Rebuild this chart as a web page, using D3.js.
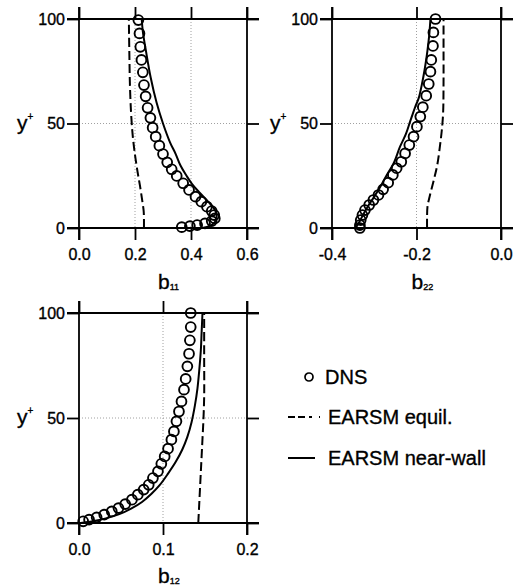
<!DOCTYPE html>
<html>
<head>
<meta charset="utf-8">
<script src="https://cdn.jsdelivr.net/npm/d3@7"></script>
<style>
  body { margin: 0; background: #fff; }
  svg { display: block; font-family: "Liberation Sans", Arial, sans-serif; }
</style>
</head>
<body>
<svg id="chart" width="519" height="586"></svg>
<script>
// y+ ticks shared by all panels
const yTicks = [0, 50, 100];
const b11Ticks = [0, 0.2, 0.4, 0.6];
const b22Ticks = [-0.4, -0.2, 0];
const b12Ticks = [0, 0.1, 0.2];

// [value, y+]
const dnsB11 = [[0.212,99.5],[0.216,93.1],[0.219,86.7],[0.223,80.4],[0.228,74.5],[0.232,68.4],[0.238,63],
  [0.245,57.5],[0.255,52.7],[0.263,48],[0.274,43.7],[0.287,39.4],[0.300,35.4],[0.315,31.4],[0.331,28.1],
  [0.349,24.9],[0.372,21.4],[0.393,18.2],[0.416,15],[0.437,12.6],[0.457,10.2],[0.474,8.1],[0.483,6.2],
  [0.485,4.6],[0.474,3.3],[0.450,2.2],[0.422,1.4],[0.396,0.9],[0.367,0.4]];
const equilB11 = [[0.232,0],[0.232,4],[0.231,8],[0.226,13],[0.218,20],[0.209,27],[0.200,35],[0.192,44],
  [0.186,55],[0.182,68],[0.180,82],[0.178,100]];
const nearWallB11 = [[0.440,0],[0.468,1],[0.486,3],[0.492,6],[0.484,9],[0.462,12.5],[0.430,17],[0.404,21],
  [0.384,25],[0.362,30],[0.345,35.5],[0.325,41],[0.300,50],[0.277,60],[0.256,72],[0.240,84],[0.228,94],[0.224,100]];

const dnsB22 = [[-0.155,100],[-0.160,93.6],[-0.161,87.1],[-0.165,80.4],[-0.167,74.8],[-0.171,68.9],
  [-0.177,63.3],[-0.185,57.8],[-0.191,53.3],[-0.199,48.5],[-0.207,43.7],[-0.217,39.7],[-0.227,35.7],
  [-0.236,31.7],[-0.247,28.6],[-0.256,25.4],[-0.267,21.7],[-0.279,18.5],[-0.290,15.8],[-0.302,13.4],
  [-0.312,11],[-0.322,8.6],[-0.328,6.2],[-0.332,3.8],[-0.334,1.4],[-0.334,0]];
const equilB22 = [[-0.175,0],[-0.175,5],[-0.174,10.2],[-0.169,15],[-0.159,23],[-0.151,30],[-0.144,40],
  [-0.140,47],[-0.137,55],[-0.136,70],[-0.136,85],[-0.136,100]];
const nearWallB22 = [[-0.344,0],[-0.335,3],[-0.326,6.5],[-0.313,11],[-0.300,15],[-0.285,20],[-0.270,25.5],
  [-0.254,31],[-0.239,38.9],[-0.225,45],[-0.215,51],[-0.203,58],[-0.195,62],[-0.186,70],[-0.179,78],
  [-0.174,85],[-0.170,92],[-0.167,100]];

const dnsB12 = [[0.133,100],[0.133,93.3],[0.132,87],[0.131,80.6],[0.129,74.6],[0.127,68.6],[0.125,63.5],
  [0.122,57.9],[0.119,53.1],[0.116,48.4],[0.113,43.6],[0.110,39.7],[0.106,35.4],[0.102,31.7],[0.098,28.2],
  [0.094,24.6],[0.088,21.4],[0.083,18.2],[0.077,15.9],[0.070,13.5],[0.063,11.1],[0.055,9],[0.047,7.1],
  [0.039,5.5],[0.030,4],[0.021,2.7],[0.012,1.6],[0.005,0.8]];
const equilB12 = [[0.142,0],[0.143,8],[0.144,16],[0.145,24],[0.146,32],[0.147,40],[0.148,48],[0.149,60],
  [0.149,80],[0.149,100]];
const nearWallB12 = [[0.002,0],[0.016,0.8],[0.032,2.2],[0.048,4.2],[0.062,6.8],[0.075,10],[0.086,13.8],
  [0.096,18],[0.106,23.5],[0.115,29],[0.123,35],[0.129,41],[0.134,48],[0.138,56],[0.141,64],[0.143,72],
  [0.145,82],[0.146,91],[0.147,100]];

const legendLabels = ["DNS", "EARSM equil.", "EARSM near-wall"];

const svg = d3.select("#chart");
svg.append("rect").attr("width", 519).attr("height", 586).attr("fill", "#fff");

const ext = 12;
const fmt = d => d.toFixed(1);
// scanned type is heavier than the plain face
const ink = sel => sel.attr("fill", "#000").attr("stroke", "#000").attr("stroke-width", 0.35);

function panel(cfg) {
  const x = d3.scaleLinear().domain(d3.extent(cfg.ticks)).range(cfg.xRange);
  const y = d3.scaleLinear().domain([0, 100]).range(cfg.yRange);
  const g = svg.append("g");
  const [x0, x1] = x.range();
  const [yb, yt] = y.range();

  // dotted grid at inner ticks
  g.selectAll(".gx").data(cfg.ticks.slice(1, -1)).join("line")
    .attr("x1", d => x(d)).attr("x2", d => x(d))
    .attr("y1", yt).attr("y2", yb)
    .attr("stroke", "#888").attr("stroke-width", 0.8).attr("stroke-dasharray", "1,2");
  g.selectAll(".gy").data(yTicks.slice(1, -1)).join("line")
    .attr("y1", d => y(d)).attr("y2", d => y(d))
    .attr("x1", x0).attr("x2", x1)
    .attr("stroke", "#888").attr("stroke-width", 0.8).attr("stroke-dasharray", "1,2");

  // axes, ticks outside on all four sides
  const axes = [
    g.append("g").attr("transform", `translate(0,${yb})`)
      .call(d3.axisBottom(x).tickValues(cfg.ticks).tickSize(ext).tickPadding(9).tickFormat(fmt)),
    g.append("g").attr("transform", `translate(0,${yt})`)
      .call(d3.axisTop(x).tickValues(cfg.ticks).tickSize(ext).tickFormat("")),
    g.append("g").attr("transform", `translate(${x0},0)`)
      .call(d3.axisLeft(y).tickValues(yTicks).tickSize(ext).tickPadding(2)),
    g.append("g").attr("transform", `translate(${x1},0)`)
      .call(d3.axisRight(y).tickValues(yTicks).tickSize(ext).tickFormat(""))
  ];
  axes.forEach(a => {
    a.select(".domain").remove();
    a.selectAll("line").attr("stroke", "#000").attr("stroke-width", 1.8);
    a.selectAll("text").attr("font-size", 16)
      .attr("font-family", "Liberation Sans, Arial, sans-serif").call(ink);
  });

  // frame, with lines running past the corners
  const frame = g.append("g").attr("stroke", "#000").attr("stroke-width", 1.8);
  [yt, yb].forEach(v => frame.append("line").attr("x1", x0 - ext).attr("x2", x1 + ext).attr("y1", v).attr("y2", v));
  [x0, x1].forEach(v => frame.append("line").attr("y1", yt - ext).attr("y2", yb + ext).attr("x1", v).attr("x2", v));

  const line = d3.line().x(d => x(d[0])).y(d => y(d[1])).curve(d3.curveCatmullRom);
  g.append("path").datum(cfg.equil).attr("d", line)
    .attr("fill", "none").attr("stroke", "#000").attr("stroke-width", 2).attr("stroke-dasharray", "9,4");
  g.append("path").datum(cfg.nearWall).attr("d", line)
    .attr("fill", "none").attr("stroke", "#000").attr("stroke-width", 2);
  g.selectAll(".dns").data(cfg.dns).join("circle")
    .attr("cx", d => x(d[0])).attr("cy", d => y(d[1])).attr("r", 4.9)
    .attr("fill", "none").attr("stroke", "#000").attr("stroke-width", 1.9);

  // axis titles
  const yl = g.append("text").attr("x", x0 - 62).attr("y", y(50) + 6)
    .attr("font-size", 21).call(ink).text("y");
  yl.append("tspan").attr("font-size", 10).attr("dy", -10).text("+");
  const xl = g.append("text").attr("x", (x0 + x1) / 2 - 5).attr("y", yb + cfg.titleGap)
    .attr("font-size", 21).call(ink).text("b");
  xl.append("tspan").attr("font-size", 9).attr("dy", 1).text(cfg.sub);
}

panel({ticks: b11Ticks, xRange: [79, 247], yRange: [228, 19], dns: dnsB11, equil: equilB11, nearWall: nearWallB11, sub: "11", titleGap: 61});
panel({ticks: b22Ticks, xRange: [332, 501], yRange: [228, 19], dns: dnsB22, equil: equilB22, nearWall: nearWallB22, sub: "22", titleGap: 61});
panel({ticks: b12Ticks, xRange: [79, 247], yRange: [523, 313], dns: dnsB12, equil: equilB12, nearWall: nearWallB12, sub: "12", titleGap: 60});

// legend
const lg = svg.append("g").attr("transform", "translate(288,377)");
const rows = lg.selectAll("g").data(legendLabels).join("g")
  .attr("transform", (d, i) => `translate(0,${[0, 40, 81][i]})`);
rows.append("text").attr("x", (d, i) => i === 0 ? 37 : 40).attr("y", 7)
  .attr("font-size", 20).call(ink).text(d => d);
rows.filter((d, i) => i === 0).append("circle").attr("cx", 21).attr("cy", 0).attr("r", 4)
  .attr("fill", "none").attr("stroke", "#000").attr("stroke-width", 1.7);
rows.filter((d, i) => i === 1).append("line").attr("x1", 0).attr("x2", 32)
  .attr("stroke", "#000").attr("stroke-width", 2).attr("stroke-dasharray", "7,3,7,4,3");
rows.filter((d, i) => i === 2).append("line").attr("x1", 0).attr("x2", 27)
  .attr("stroke", "#000").attr("stroke-width", 2);
</script>
</body>
</html>
